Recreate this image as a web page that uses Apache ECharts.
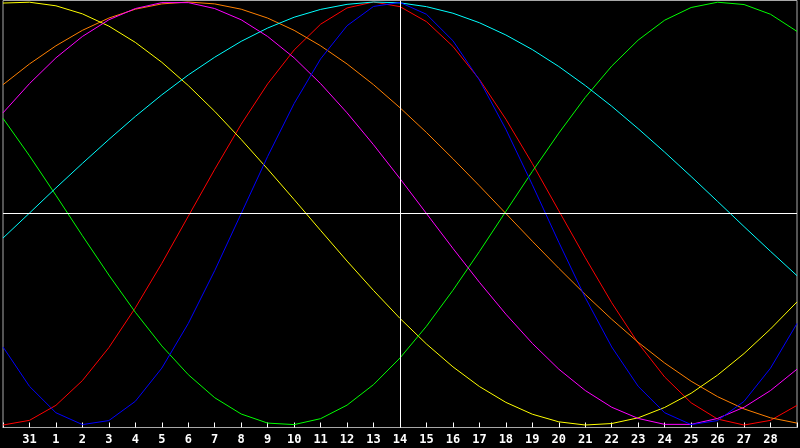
<!DOCTYPE html>
<html>
<head>
<meta charset="utf-8">
<script src="https://cdn.jsdelivr.net/npm/echarts@6/dist/echarts.min.js"></script>
<style>
html,body{margin:0;padding:0;background:#000;}
#chart{width:800px;height:448px;}
</style>
</head>
<body>
<div id="chart"></div>
<script>
// Day labels along the x axis (first and last are edge positions, not labelled)
const days = ['30','31','1','2','3','4','5','6','7','8','9','10','11','12','13','14','15','16','17','18','19','20','21','22','23','24','25','26','27','28','29'];

// Cycle values (-1 .. 1)
const redValues = [-1.000,-0.978,-0.907,-0.790,-0.634,-0.446,-0.236,-0.013,0.209,0.422,0.613,0.773,0.895,0.972,1.000,0.978,0.907,0.790,0.634,0.446,0.236,0.013,-0.209,-0.422,-0.613,-0.773,-0.895,-0.972,-1.000,-0.978,-0.907];
const blueValues = [-0.631,-0.817,-0.942,-0.998,-0.979,-0.888,-0.731,-0.520,-0.270,0.000,0.270,0.520,0.731,0.888,0.979,0.998,0.942,0.817,0.631,0.398,0.136,-0.136,-0.398,-0.631,-0.817,-0.942,-0.998,-0.979,-0.888,-0.731,-0.520];
const greenValues = [0.450,0.273,0.086,-0.105,-0.291,-0.467,-0.626,-0.762,-0.871,-0.948,-0.991,-0.998,-0.970,-0.906,-0.809,-0.683,-0.533,-0.363,-0.180,0.010,0.199,0.380,0.549,0.697,0.820,0.914,0.974,0.999,0.988,0.942,0.861];
const cyanValues = [-0.116,0.002,0.121,0.237,0.350,0.459,0.561,0.655,0.739,0.814,0.877,0.928,0.965,0.989,1.000,0.996,0.978,0.947,0.902,0.844,0.775,0.695,0.605,0.507,0.401,0.290,0.175,0.057,-0.062,-0.179,-0.294];
const yellowValues = [0.995,0.999,0.982,0.944,0.886,0.809,0.715,0.605,0.483,0.350,0.210,0.066,-0.080,-0.225,-0.364,-0.496,-0.617,-0.725,-0.818,-0.893,-0.949,-0.985,-1.000,-0.993,-0.966,-0.917,-0.850,-0.764,-0.662,-0.546,-0.418];
const orangeValues = [0.609,0.707,0.793,0.866,0.924,0.966,0.991,1.000,0.991,0.966,0.924,0.866,0.793,0.707,0.609,0.500,0.383,0.259,0.131,0.000,-0.131,-0.259,-0.383,-0.500,-0.609,-0.707,-0.793,-0.866,-0.924,-0.966,-0.991];
const magentaValues = [0.476,0.614,0.736,0.837,0.916,0.969,0.997,0.997,0.969,0.916,0.837,0.736,0.614,0.476,0.325,0.165,0.000,-0.165,-0.325,-0.476,-0.614,-0.736,-0.837,-0.916,-0.969,-0.997,-0.997,-0.969,-0.916,-0.837,-0.736];

const markerDay = '14';

const seriesDefs = [
  {name:'red', color:'#ff0000', data:redValues},
  {name:'orange', color:'#ff8000', data:orangeValues},
  {name:'yellow', color:'#ffff00', data:yellowValues},
  {name:'green', color:'#00ff00', data:greenValues},
  {name:'cyan', color:'#00ffff', data:cyanValues},
  {name:'magenta', color:'#ff00ff', data:magentaValues},
  {name:'blue', color:'#0000ff', data:blueValues}
];

const chart = echarts.init(document.getElementById('chart'), null, {renderer:'canvas'});

const series = seriesDefs.map((s, idx) => {
  const o = {
    name: s.name,
    type: 'line',
    data: s.data,
    symbol: 'none',
    smooth: false,
    silent: true,
    animation: false,
    lineStyle: {color: s.color, width: 1},
    itemStyle: {color: s.color},
    emphasis: {disabled: true}
  };
  if (idx === seriesDefs.length - 1) {
    o.markLine = {
      silent: true,
      symbol: 'none',
      animation: false,
      label: {show: false},
      lineStyle: {color: '#ffffff', width: 1, type: 'solid'},
      data: [{yAxis: 0}, {xAxis: markerDay}]
    };
  }
  return o;
});

chart.setOption({
  backgroundColor: '#000000',
  animation: false,
  grid: {
    left: 0.5, right: 0.5, top: 0.5, bottom: 20.5,
    show: true,
    backgroundColor: '#000000',
    borderColor: '#a8a8a8',
    borderWidth: 1
  },
  xAxis: {
    type: 'category',
    data: days,
    boundaryGap: false,
    axisLine: {show: true, onZero: false, lineStyle: {color: '#a8a8a8', width: 1}},
    axisTick: {show: true, inside: true, length: 5, interval: 0, lineStyle: {color: '#ffffff', width: 1}},
    axisLabel: {
      show: true,
      interval: 0,
      margin: 6,
      color: '#ffffff',
      fontFamily: 'DejaVu Sans Mono',
      fontWeight: 'bold',
      fontSize: 12,
      formatter: function (v, i) { return (i === 0 || i === days.length - 1) ? '' : v; }
    },
    splitLine: {show: false}
  },
  yAxis: {
    type: 'value',
    min: -1.0118,
    max: 1.0071,
    show: false,
    splitLine: {show: false}
  },
  series: series
});
</script>
</body>
</html>
